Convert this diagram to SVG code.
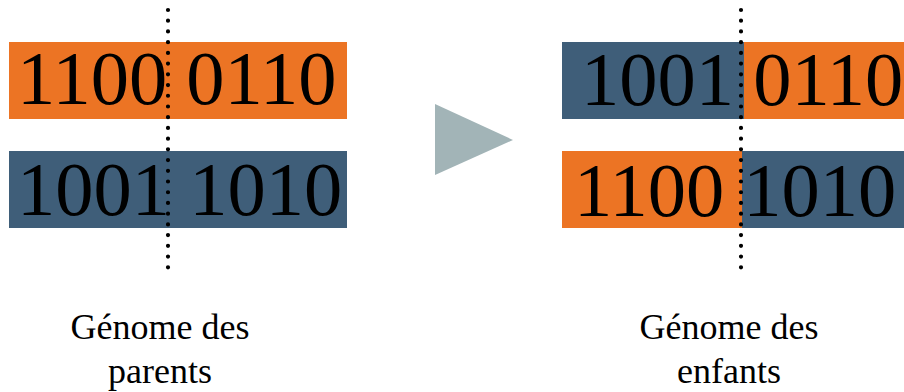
<svg xmlns="http://www.w3.org/2000/svg" width="904" height="392" viewBox="0 0 904 392">
<style>
.or{fill:#EC7424}
.bl{fill:#3F5E79}
.dig{font-family:"Liberation Serif","Times New Roman",serif;font-size:76.5px;fill:#000}
.lbl{font-family:"Liberation Serif","Times New Roman",serif;font-size:36px;fill:#000;text-anchor:middle}
.cut{stroke:#000;stroke-width:4.2;stroke-linecap:round;stroke-dasharray:0 10.72;fill:none}
</style>
<rect width="904" height="392" fill="#fff"/>
<g id="parents">
<g id="parent1">
<rect class="or" x="9" y="42" width="338" height="77"/>
<text class="dig" x="17" y="104" xml:space="preserve">1100 0110</text>
</g>
<g id="parent2">
<rect class="bl" x="9" y="151" width="338" height="77"/>
<text class="dig" x="17" y="215" xml:space="preserve">1001 1010</text>
</g>
<text class="lbl" x="160" y="339">Génome des</text>
<text class="lbl" x="160" y="383">parents</text>
</g>
<g id="arrow">
<polygon points="435,104 513,140 435,175" fill="#A2B4B7"/>
</g>
<g id="enfants">
<g id="child1">
<rect class="bl" x="562" y="42" width="182" height="77"/>
<rect class="or" x="744" y="42" width="160" height="77"/>
<text class="dig" x="581" y="105" xml:space="preserve">1001 0110</text>
</g>
<g id="child2">
<rect class="or" x="562" y="151" width="180" height="77"/>
<rect class="bl" x="742" y="151" width="162" height="77"/>
<text class="dig" x="574" y="216" xml:space="preserve">1100 1010</text>
</g>
<text class="lbl" x="729" y="339">Génome des</text>
<text class="lbl" x="729" y="383">enfants</text>
</g>
<g id="connectors">
<line class="cut" x1="168" y1="10" x2="168" y2="268"/>
<line class="cut" x1="741" y1="10" x2="741" y2="268"/>
</g>
</svg>
